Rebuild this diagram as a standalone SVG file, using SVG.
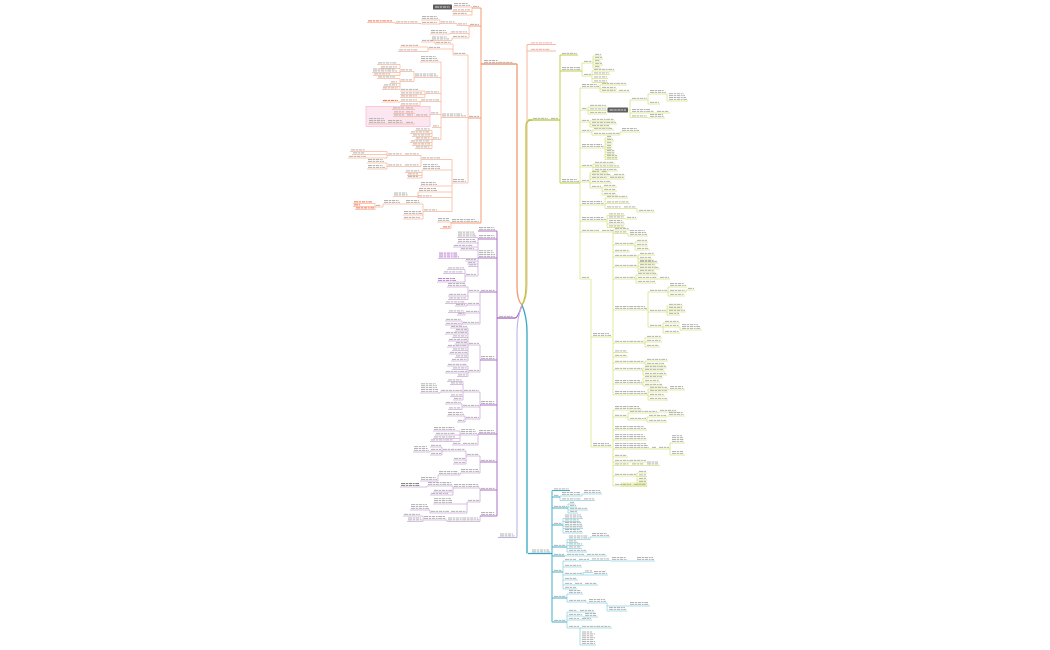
<svg xmlns="http://www.w3.org/2000/svg" width="1050" height="650" viewBox="0 0 1050 650">
<style>
.l,.u,.t{fill:none}
.t{stroke:#ababab;stroke-width:.9;stroke-dasharray:4 .7 2.5 .7 3.2 .7 1.8 .7}
.tr{stroke:#ee6242}
.tpu{stroke:#b777ca}
.tpk{stroke:#f2a2a6}
.tw{stroke:#e8e8e8}
.o0{stroke:#F39A70;stroke-width:1.3}.o1{stroke:#F49B72;stroke-width:1}.o2{stroke:#F8B497;stroke-width:.75}
.p0{stroke:#A261BD;stroke-width:1.3}.p1{stroke:#AE6FC6;stroke-width:1}.p2{stroke:#CDAADB;stroke-width:.75}
.g0{stroke:#B8C83A;stroke-width:1.3}.g1{stroke:#BFCD45;stroke-width:1}.g2{stroke:#D6E07F;stroke-width:.75}
.b0{stroke:#33A8C5;stroke-width:1.3}.b1{stroke:#45B0CA;stroke-width:1}.b2{stroke:#8FD1E1;stroke-width:.75}
.k0{stroke:#F6BCA3;stroke-width:1.1}.y0{stroke:#C2B2DE;stroke-width:1.1}
</style>
<rect width="1050" height="650" fill="#fff"/>
<g id="connectors" class="l">
<path class="o0" d="M522 305C518 301 517 295 517 286V64"/>
<path class="k0" d="M522 305C526 300 527 293 527 284V44.5M527 44.5V51"/>
<path class="g0" d="M522 305C525 300 526 293 526 285V126Q526 120 532 120"/>
<path class="b0" d="M522 305C525 312 527 322 527 332V553.5"/>
<path class="p0" d="M522 305C520 311 518 318 515 318"/>
<path class="y0" d="M522 305C519 313 517 322 517 332V537.5"/>
<path class="o1" d="M481 8V223"/>
<path class="o2" d="M472 7V15M469 25.5V38M457 23.5V25.5M440 20V24M421 23.5V24M395 22.5V23.5M450 33.5V34M452 38V40.5M468 55V183M453 44V55M435 42V44M428 47V51.5M441 62V139.5M414 71.5V81.5M400 64.5V75.5M400 78.5V89.5M425 91V97.5M420 101.5V105.5M400 101.5V102M430 114.5V116.5M415 109.5V124M432 130.5V148.5M452 159.5V211.5M421 155.5V166.5M387 151.5V158M387 163V169M422 170V178M418 192V196.5M423 204V219M383 204V207M375 203.5V209.5M451 222V228.5"/>
<path class="p1" d="M497 231V516"/>
<path class="p2" d="M478 237.5V276M465 269.5V282M480 292V324M468 287V299.5M467 303.5V306M465 312.5V315M462 321V325M480 345V372M468 328V361M468 366V376.5M480 392V419M463 381.5V400M440 392V393M462 404V409.5M465 416V422M478 434V445M460 431V441.5M480 456V473M466 451V464M442 447V455M430 451V452M460 473V475M438 475V481M480 488V502M453 486V495M427 486V487M467 502V513M430 510V513M480 516V521.5M447 520V521.5M423 516V521.5"/>
<path class="g1" d="M560 55V183"/>
<path class="g2" d="M582 63V76M593 56V68M592 71V82.5M580 88V279M600 85V92M588 107V114M628 110H630M630 100V117.5M648 94V104M667 94V101M590 121V127M592 130V135M620 132V135M605 138V159.5M593 164V171M590 173V188M602 187V195M605 198V208.5M637 208.5V212M607 215.5V227.5M591 279V447M613 230V395M628 233.5V236M635 242V250M638 255V262M638 263V272M636 275V283M648 292V327M668 287V296M686 290V292M667 306V315M663 323V333M680 327V330M645 338V347M645 361V365M643 368V375M643 378V386M648 389V400M668 389V390M613 410V486M628 413V420M658 412V413M647 417V422M670 443V455M637 473V483"/>
<path class="b1" d="M552 490.5V622"/>
<path class="b2" d="M560 496V500.5M582 494V496M568 504V513M563 518.5V533M567 539.5V552M590 537V539.5M563 561V589M583 572.5V575M567 594V602M607 603V611M567 612V628M580 628V645"/>
</g>

<g id="orange-main"><path class="u o0" d="M481 64H517"/><path class="t" d="M484 60.5H498M484 62.4H513"/></g>
<g id="orange-a">
<path class="u o1" d="M472 8H481"/>
<path class="u o2" d="M453 7H472M452 11.5H472M452 15H472"/>
<rect x="433" y="4.5" width="19" height="5" rx=".6" fill="#5b5b5b"/>
<path class="t tw" d="M435 7H450"/>
<path class="t" d="M473 6.4H479M454 5.4H470M454 3.5H468M453 9.9H470M453 13.4H467"/>
</g>
<g id="orange-b">
<path class="u o1" d="M469 26H481"/>
<path class="u o2" d="M457 25.5H469M450 33.5H469M452 38H469M440 23.5H457M421 20H440M421 24H440M395 23.5H421M367 22.5H395M430 34H450M431 40.5H452"/>
<path class="t" d="M470 24.4H479M458 23.9H467M451 31.9H467M453 36.4H467M441 21.9H455M422 18.4H438M422 16.5H437M422 22.4H437M396 21.9H418M431 32.4H447M431 30.5H446M432 38.9H449M432 37H447"/>
<path class="t tr" d="M368 20.9H392"/>
</g>
<g id="orange-c">
<rect x="366" y="106.5" width="64" height="20" fill="#FCE6F0" stroke="#F3AFCB" stroke-width=".6"/>
<path class="u o1" d="M468 118H481"/>
<path class="u o2" d="M453 55H468M441 117.5H468M452 183H468M435 44H453M421 42H435M428 49H453M400 47H428M398 51.5H428M420 62H441M414 77.5H441M425 93.5H441M420 101.5H441M430 114.5H441M432 127.5H441M432 139.5H441M400 71.5H414M400 81.5H414M377 64.5H400M380 68.5H400M372 72.5H400M373 75.5H400M377 78.5H400M390 83.5H400M383 86.5H400M382 89.5H400M400 91H425M400 94.5H425M400 97.5H425M400 101.5H420M400 105.5H420M382 102H400M415 116.5H430M405 109.5H415M405 113.5H415M406 116.5H415M405 124H415M392 109.5H405M393 113.5H405M393 116.5H406M387 124H405M368 124H387M415 130.5H432M410 133.5H432M412 136.5H432M415 139.5H432M410 142.5H432M412 145.5H432M415 148.5H432M421 159.5H452M422 170H452M420 186H452M418 192H452M417 197.5H452M423 211.5H452M404 155.5H421M404 166.5H421M387 155.5H404M387 166.5H404M350 151.5H387M352 154.5H387M348 158H387M367 163H387M367 169H387M405 172.5H422M407 175.5H422M407 178H422M393 196.5H418M405 204H423M403 215H423M403 219H423M383 204H405M375 207H383M353 203.5H375M353 206.5H375M355 209.5H375"/>
<path class="t" d="M469 116.4H479M454 53.4H466M436 42.4H451M422 40.4H433M429 47.4H440M401 45.4H418M399 49.9H418M442 115.9H466M442 114H462M453 181.4H466M453 179.5H464M421 60.4H438M421 58.5H437M421 56.6H436M415 75.9H438M415 74H436M426 91.9H439M421 99.9H439M431 112.9H439M433 125.9H439M433 137.9H439M401 69.9H412M401 79.9H412M378 62.9H397M381 66.9H397M373 70.9H397M373 69H395M374 73.9H390M378 76.9H395M391 81.9H397M384 84.9H397M383 87.9H398M401 89.4H418M401 92.9H422M401 95.9H417M401 99.9H417M401 103.9H418M416 114.9H428M406 107.9H413M406 111.9H413M407 114.9H413M406 122.4H413M393 107.9H404M394 111.9H404M394 114.9H404M388 122.4H403M388 120.5H402M369 122.4H385M369 120.5H385M369 118.6H384M416 128.9H430M411 131.9H430M413 134.9H430M416 137.9H430M411 140.9H430M413 143.9H430M416 146.9H430M422 157.9H440M405 153.9H419M405 164.9H419M388 153.9H402M388 164.9H402M351 149.9H365M353 152.9H365M349 156.4H366M368 161.4H384M368 159.5H383M368 167.4H385M368 165.5H383M423 168.4H440M423 166.5H440M423 164.6H438M406 170.9H420M408 173.9H418M408 176.4H418M421 184.4H437M421 182.5H436M419 190.4H437M419 188.5H436M418 195.9H432M394 194.9H408M394 193H407M424 209.9H437M406 202.4H420M406 200.5H419M404 213.4H422M404 211.5H421M404 217.4H420M384 202.4H400M384 200.5H399M376 205.4H381"/>
<path class="t tr" d="M383 100.4H398M354 201.9H372M354 204.9H360M356 207.9H374"/>
</g>
<g id="orange-d">
<path class="u o1" d="M451 223H481"/>
<path class="u o2" d="M437 222H451M440 228.5H451"/>
<path class="t" d="M452 221.4H479M452 219.5H475M438 220.4H449M438 218.5H449"/>
<path class="t tr" d="M443 226.9H450"/>
</g>

<g id="pink-main"><path class="u k0" d="M527 44.5H556M527 51H556"/><path class="t tpk" d="M531 42.9H552M531 49.4H550"/></g>
<g id="gray-main"><path class="u y0" d="M498 537.5H517"/><path class="t" d="M500 535.9H515M500 534H513"/></g>

<g id="green-main"><path class="u g0" d="M528 120H560"/><path class="t" d="M533 118.4H548M551 118.4H558"/></g>
<g id="green-1"><path class="u g1" d="M560 55H578"/><path class="t" d="M562 53.4H577"/></g>
<g id="green-2">
<path class="u g1" d="M560 71H582"/>
<path class="u g2" d="M582 63H593M582 76H592M593 56H602M593 59H603M593 62H601M593 65H603M593 68H601M592 71H615M592 74.5H610M592 78.5H608M592 82.5H608"/>
<path class="t" d="M562 69.4H581M562 67.5H580M584 61.4H592M584 74.4H591M595 54.4H601M595 57.4H602M595 60.4H600M595 63.4H602M595 66.4H600M594 69.4H614M594 72.9H609M594 76.9H607M594 80.9H607"/>
</g>
<g id="green-3">
<path class="u g1" d="M560 183H580"/>
<path class="u g2" d="M580 88H600M580 110H588M580 122H590M580 132H592M580 148H605M580 167H593M580 182H590M580 205H605M580 221H607M580 232H600M600 85H627M600 89H617M600 92H630M588 107H607M588 110.5H607M588 114H607M630 100H648M630 113H670M630 117.5H648M648 94H667M648 104H660M667 101H688M648 118H665M590 121H615M590 124H617M590 127H610M592 130H614M592 135H620M620 132H640M605 138H612M605 141H614M605 144H613M605 147H612M605 149.5H612M605 152H615M605 154.5H615M605 157H618M605 159.5H618M593 164H615M593 167.5H620M593 171H618M590 173H608M590 176H625M590 179H625M590 183H612M590 188H602M602 187H617M602 191H617M602 195H617M605 198H628M605 203.5H630M605 208.5H637M637 212H655M607 215.5H625M607 218.5H625M625 219H637M607 224H625M607 227.5H625M600 232H615"/>
<rect x="607.5" y="107.5" width="20.5" height="5" rx=".6" fill="#5f5f5f"/>
<path class="t tw" d="M609.5 110H626"/>
<path class="t" d="M562 181.4H579M562 179.5H577M582 86.4H599M582 84.5H597M602 83.4H626M602 87.4H616M602 90.4H616M619 90.4H629M582 108.4H587M590 105.4H606M590 108.9H606M590 112.4H606M632 98.4H647M632 111.4H654M632 109.5H650M632 115.9H647M650 92.4H666M650 90.5H664M650 102.4H659M669 99.4H687M669 97.5H686M669 95.6H685M669 93.7H684M657 111.4H669M650 116.4H664M650 114.5H663M582 120.4H589M592 119.4H614M592 122.4H616M592 125.4H609M582 130.4H591M594 128.4H613M594 133.4H619M622 130.4H639M622 128.5H637M582 146.4H604M582 144.5H602M607 136.4H611M607 139.4H613M607 142.4H612M607 145.4H611M607 147.9H611M607 150.4H614M607 152.9H614M607 155.4H617M607 157.9H617M582 165.4H592M595 162.4H614M595 165.9H619M595 169.4H617M582 180.4H589M592 171.4H599M602 171.4H607M592 174.4H611M614 174.4H624M592 177.4H607M610 177.4H624M592 181.4H611M592 186.4H601M604 185.4H616M604 189.4H616M604 193.4H616M582 203.4H604M582 201.5H602M607 196.4H627M607 201.9H629M607 206.9H621M624 206.9H636M639 210.4H654M582 219.4H606M582 217.5H604M609 213.9H624M609 216.9H624M627 217.4H636M609 222.4H624M609 220.5H622M609 225.9H624M582 230.4H599M602 230.4H614"/>
</g>
<g id="green-4">
<rect x="621" y="482.5" width="26" height="4.2" fill="#EEF2B6"/>
<path class="u g2" d="M580 279H590M591 337H612M591 447H612M613 230H630M613 233.5H628M628 236H648M613 245H635M613 252H630M613 257H638M613 267H638M613 279H636M613 310H648M613 343H645M613 352.5H628M613 357H628M613 363H645M613 370H643M613 384H643M613 395H648M635 242H648M635 246H648M635 250H650M638 255H655M638 259H652M638 262H655M638 263H658M638 266H656M638 269H660M638 272H655M636 275H658M636 279H670M636 283H656M648 292H668M648 312H667M648 327H663M668 287H687M668 292H686M686 290H695M668 296H685M667 306H683M667 309H683M667 312H686M667 315H680M663 323H680M663 327H680M663 333H680M680 330H702M645 338H662M645 342H662M645 347H660M645 361H668M645 365H665M643 368H667M643 371H665M643 375H667M643 378H663M643 382H660M643 386H663M648 389H668M648 392H668M648 396H665M648 400H668M668 390H685M613 410H642M613 417H628M613 430H647M613 440H647M613 449H670M613 457H628M613 462H647M613 465.5H660M613 476H637M613 486H647M628 413H658M658 412H677M628 420H647M647 417H667M667 416H685M647 422H667M670 443H685M670 455H685M637 473H647M637 476.5H647M637 480H647M637 483H647"/>
<path class="t" d="M582 277.4H589M593 335.4H611M593 333.5H609M593 445.4H611M593 443.5H609M615 228.4H629M615 231.9H627M630 234.4H647M630 232.5H646M630 230.6H645M615 243.4H634M637 240.4H647M637 244.4H647M637 248.4H649M615 250.4H629M615 255.4H637M640 253.4H654M640 257.4H651M640 260.4H654M615 265.4H637M640 261.4H657M640 264.4H655M640 267.4H659M640 270.4H654M615 277.4H635M638 273.4H657M638 277.4H657M660 277.4H669M638 281.4H655M615 308.4H647M615 306.5H645M650 290.4H667M650 310.4H666M650 325.4H662M670 285.4H686M670 283.5H684M670 290.4H685M688 288.4H694M670 294.4H684M669 304.4H682M669 307.4H682M669 310.4H685M669 313.4H679M665 321.4H679M665 325.4H679M665 331.4H679M682 328.4H701M682 326.5H700M682 324.6H698M615 341.4H644M647 336.4H661M647 340.4H661M647 345.4H659M615 350.9H627M615 355.4H627M615 361.4H644M647 359.4H667M647 363.4H664M615 368.4H642M645 366.4H666M645 369.4H664M645 373.4H666M615 382.4H642M615 380.5H640M645 376.4H662M645 380.4H659M645 384.4H662M615 393.4H647M615 391.5H645M650 387.4H667M650 390.4H667M650 394.4H664M650 398.4H667M670 388.4H684M670 386.5H683M615 408.4H641M615 406.5H639M615 415.4H627M630 411.4H657M660 410.4H676M630 418.4H646M649 415.4H666M669 414.4H684M669 412.5H683M649 420.4H666M615 428.4H646M615 426.5H644M615 438.4H646M615 436.5H645M615 434.6H643M615 447.4H649M615 445.5H648M615 443.6H646M652 447.4H656M659 447.4H669M672 441.4H684M672 439.5H684M672 437.6H683M672 435.7H682M672 453.4H684M672 451.5H683M615 455.4H627M615 460.4H646M615 463.9H629M632 463.9H644M647 463.9H659M647 462H658M615 474.4H636M639 471.4H646M639 474.9H646M639 478.4H646M639 481.4H646M615 484.4H631M634 484.4H646"/>
</g>

<g id="blue-main"><path class="u b0" d="M528 553.5H552"/><path class="t" d="M532 551.9H550M532 550H549"/></g>
<g id="blue-sub">
<path class="u b1" d="M552 490.5H570M552 497H560M552 508H568M552 525H563M552 547H567M552 556H565M552 572H563M552 598H567M552 622H567"/>
<path class="u b2" d="M560 496H582M560 500.5H582M582 494H602M582 500.5H595M568 504H575M568 507H577M568 510H588M568 513H578M563 518.5H583M563 521.5H580M563 526H583M563 528.5H583M563 533H583M567 539.5H590M590 537H610M567 542.5H578M567 545.5H583M567 548.5H582M567 552H587M565 556H607M563 561H590M590 560.5H610M610 561H655M563 567H582M563 575H583M583 572.5H593M583 575H608M563 580H578M563 585H598M563 589H577M567 594H583M567 602H587M587 603H607M607 611H627M607 606H650M567 612H595M567 616H583M583 617H598M567 620H592M567 628H580M580 628H612M580 645H596"/>
<path class="t" d="M554 488.9H569M554 495.4H559M554 506.4H567M554 523.4H562M554 545.4H566M554 554.4H564M554 570.4H562M554 596.4H566M554 620.4H566M562 494.4H581M562 492.5H580M562 498.9H581M584 492.4H601M584 490.5H600M584 498.9H594M570 502.4H574M570 505.4H576M570 508.4H587M570 511.4H577M565 516.9H582M565 515H581M565 519.9H579M565 524.4H582M565 522.5H581M565 526.9H582M565 531.4H582M565 529.5H580M569 537.9H589M569 536H588M592 535.4H609M592 533.5H607M569 540.9H577M569 543.9H582M569 546.9H581M569 550.4H586M567 554.4H584M587 554.4H606M565 559.4H576M579 559.4H589M592 558.9H609M612 559.4H627M612 557.5H626M637 559.4H654M637 557.5H653M565 565.4H581M565 573.4H582M585 570.9H592M594 573.4H607M594 571.5H606M565 578.4H577M565 583.4H572M575 583.4H582M585 583.4H597M565 587.4H576M569 592.4H582M569 590.5H581M569 600.4H586M589 601.4H606M589 599.5H605M609 609.4H626M609 607.5H625M630 604.4H649M630 602.5H648M569 610.4H577M580 610.4H594M569 614.4H582M585 615.4H597M585 613.5H596M569 618.4H579M582 618.4H591M569 626.4H579M582 626.4H611M582 643.4H595M582 641.5H595M582 639.6H594M582 637.7H595M582 635.8H593M582 633.9H595M582 632H592"/>
</g>

<g id="purple-main"><path class="u p0" d="M497 318H515"/><path class="t" d="M499 316.4H513"/></g>
<g id="purple-a">
<path class="u p1" d="M478 231H497M478 239H497"/>
<path class="t" d="M479 229.4H495M479 227.5H494M479 237.4H495M479 235.5H494"/>
</g>
<g id="purple-c">
<path class="u p1" d="M478 258H497"/>
<path class="u p2" d="M457 237.5H478M457 243H478M453 247H478M460 250H478M438 258.5H478M465 261H478M467 264H478M468 266.5H478M465 276H478M447 269.5H465M443 273.5H465M437 282H465"/>
<path class="t" d="M479 256.4H495M479 254.5H495M479 252.6H494M479 250.7H493M458 235.9H476M458 234H475M458 232.1H474M458 241.4H476M458 239.5H475M454 245.4H473M461 248.4H474M466 259.4H476M468 262.4H476M469 264.9H476M466 274.4H476M448 267.9H464M444 271.9H463"/>
<path class="t tpu" d="M439 256.9H459M439 255H458M439 253.1H457M438 280.4H456M438 278.5H455"/>
</g>
<g id="purple-d">
<path class="u p1" d="M480 292H497"/>
<path class="u p2" d="M468 292H480M467 305H480M465 313H480M462 324H480M447 287H468M448 296H468M448 299.5H468M445 303.5H467M455 306H467M448 312.5H465M457 315H465M445 321H462M445 325H462"/>
<path class="t" d="M481 290.4H495M469 290.4H479M468 303.4H479M466 311.4H479M463 322.4H479M448 285.4H466M448 283.5H465M449 294.4H466M449 297.9H466M446 301.9H465M456 304.4H465M449 310.9H464M458 313.4H464M446 319.4H461M446 323.4H461"/>
</g>
<g id="purple-e">
<path class="u p1" d="M480 360H497"/>
<path class="u p2" d="M468 345H480M468 372H480M450 328H468M455 331H468M445 334H468M452 337.5H468M448 341H468M455 344H468M447 347H468M452 350.5H468M449 354H468M455 357.5H468M451 361H468M447 366H468M452 369.5H468M445 373H468M457 376.5H468"/>
<path class="t" d="M481 358.4H495M481 356.5H494M469 343.4H479M469 370.4H479M451 326.4H467M456 329.4H467M446 332.4H467M453 335.9H467M449 339.4H467M456 342.4H467M448 345.4H467M453 348.9H467M450 352.4H467M456 355.9H467M452 359.4H467M448 364.4H467M453 367.9H467M446 371.4H467M458 374.9H467"/>
</g>
<g id="purple-f">
<path class="u p1" d="M480 405H497"/>
<path class="u p2" d="M463 392H480M462 407H480M465 419H480M447 381.5H463M450 384.5H463M440 392H463M420 393H440M450 396.5H463M453 400H463M445 404H462M448 409.5H462M447 416H465M457 422H465"/>
<path class="t" d="M481 403.4H495M481 401.5H494M464 390.4H479M463 405.4H479M466 417.4H479M448 379.9H462M451 382.9H462M441 390.4H462M421 391.4H438M421 389.5H438M421 387.6H437M421 385.7H437M421 383.8H436M451 394.9H462M454 398.4H462M446 402.4H461M449 407.9H461M448 414.4H464M448 412.5H463M458 420.4H464"/>
</g>
<g id="purple-g">
<path class="u p1" d="M478 434H497"/>
<path class="u p2" d="M460 435H478M462 445H478M433 431H460M435 435H460M433 438.5H460M430 441.5H460M452 445H462"/>
<path class="t" d="M479 432.4H495M479 430.5H494M461 433.4H477M461 431.5H476M461 429.6H475M463 443.4H477M434 429.4H455M434 427.5H454M436 433.4H455M434 436.9H455M431 439.9H453M453 443.4H461"/>
</g>
<g id="purple-h">
<path class="u p1" d="M480 462H497"/>
<path class="u p2" d="M466 456H480M460 473H480M442 451H466M453 460H466M453 464H466M430 447H442M430 451H442M430 455H442M413 452H430M438 475H460M420 481H438"/>
<path class="t" d="M481 460.4H495M467 454.4H479M461 471.4H479M461 469.5H478M443 449.4H465M454 458.4H465M454 462.4H465M431 445.4H441M431 449.4H441M431 453.4H441M414 450.4H429M414 448.5H428M414 446.6H427M439 473.4H459M439 471.5H458M421 479.4H437M421 477.5H436"/>
</g>
<g id="purple-i">
<path class="u p1" d="M480 490H497"/>
<path class="u p2" d="M453 488H480M467 502H480M427 486H453M400 487H427M433 492H453M430 495H453M433 504H467M450 513H467M430 513H450M410 510H430"/>
<path class="t" d="M481 488.4H495M454 486.4H479M454 484.5H478M428 484.4H452M428 482.5H451M434 490.4H452M431 493.4H448M468 500.4H479M434 502.4H452M434 500.5H452M434 498.6H451M451 511.4H466M431 511.4H449M411 508.4H429M411 506.5H428M411 504.6H427"/>
<path class="t" style="stroke:#777" d="M401 485.4H420M401 483.5H419"/>
</g>
<g id="purple-j">
<path class="u p1" d="M480 516H497"/>
<path class="u p2" d="M447 521.5H480M423 520H447M403 516H423M407 521.5H423"/>
<path class="t" d="M481 514.4H495M481 512.5H494M448 519.9H479M448 518H478M424 518.4H446M424 516.5H445M404 514.4H420M408 519.9H422M408 518H421"/>
</g>
</svg>
